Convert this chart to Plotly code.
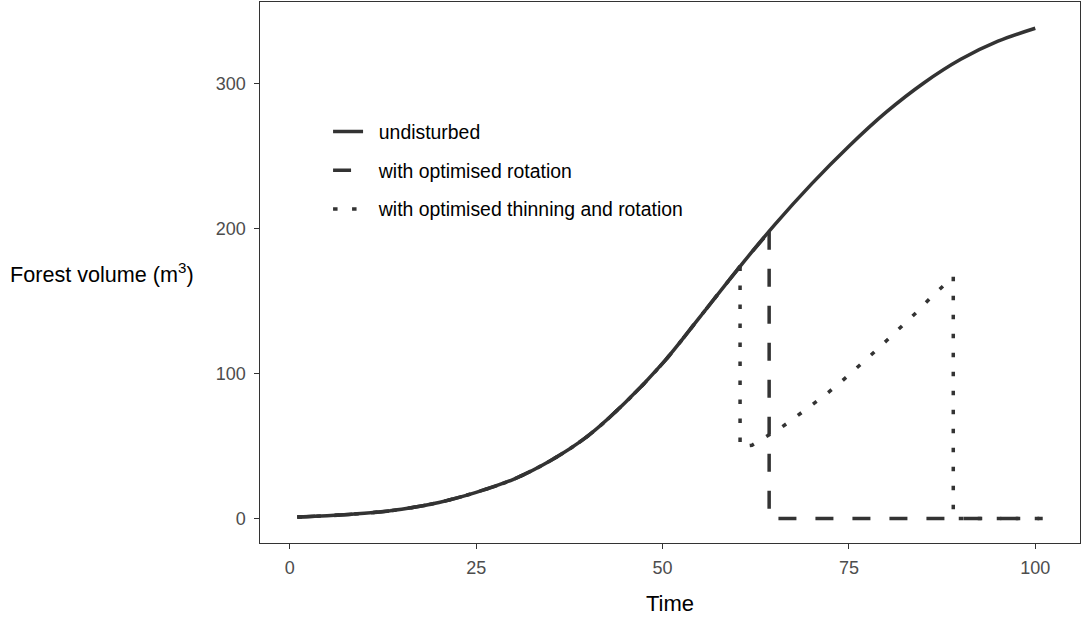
import plotly.graph_objects as go

# ---- data ----
curve_time = [1, 5, 10, 15, 20, 25, 30, 35, 40, 45, 50, 55, 60, 65, 70, 75, 80, 85, 90, 95, 100]
curve_vol = [0.9, 1.8, 3.5, 6.3, 11, 18, 27, 40, 57, 80, 107, 139, 171.5, 202.5, 231, 257, 280.5, 300.5, 317, 329.5, 338.5]

rotation_grow_time = [1, 5, 10, 15, 20, 25, 30, 35, 40, 45, 50, 55, 60, 64.3]
rotation_grow_vol = [0.9, 1.8, 3.5, 6.3, 11, 18, 27, 40, 57, 80, 107, 139, 171.5, 198]
rotation_cut_time = [64.3, 64.3, 101]
rotation_cut_vol = [198, 0, 0]

thinning_grow_time = [1, 5, 10, 15, 20, 25, 30, 35, 40, 45, 50, 55, 60, 60.4]
thinning_grow_vol = [0.9, 1.8, 3.5, 6.3, 11, 18, 27, 40, 57, 80, 107, 139, 171.5, 174]
thinning_cut_time = [60.4, 60.4, 62, 64, 66, 68, 70, 72, 74, 76, 78, 80, 82, 84, 86, 88, 89, 89, 101]
thinning_cut_vol = [174, 49.5, 50.5, 56.5, 63, 70.5, 78, 86, 94.5, 103.5, 113, 122.5, 132, 142, 152.5, 162, 167, 0, 0]

series_names = ["undisturbed", "with optimised rotation", "with optimised thinning and rotation"]
x_ticks = [0, 25, 50, 75, 100]
y_ticks = [0, 100, 200, 300]

COL = "#333333"
LW = 3.5
DASH = "18px,19px"
DOT = "4.5px,14.5px"
FONT = "Liberation Sans, Arial, sans-serif"
PAD = "\u00a0\u00a0"  # small gap between legend key and label, as in the reference

fig = go.Figure()
fig.add_trace(go.Scatter(x=curve_time, y=curve_vol, mode="lines", name=PAD + series_names[0],
                         legendgroup="a", line=dict(color=COL, width=LW, shape="spline", smoothing=1.0)))
fig.add_trace(go.Scatter(x=rotation_grow_time, y=rotation_grow_vol, mode="lines", name=PAD + series_names[1],
                         legendgroup="b", line=dict(color=COL, width=LW, dash=DASH, shape="spline", smoothing=1.0)))
fig.add_trace(go.Scatter(x=rotation_cut_time, y=rotation_cut_vol, mode="lines", name=PAD + series_names[1],
                         legendgroup="b", showlegend=False, line=dict(color=COL, width=LW, dash=DASH)))
fig.add_trace(go.Scatter(x=thinning_grow_time, y=thinning_grow_vol, mode="lines", name=PAD + series_names[2],
                         legendgroup="c", line=dict(color=COL, width=LW, dash=DOT, shape="spline", smoothing=1.0)))
fig.add_trace(go.Scatter(x=thinning_cut_time, y=thinning_cut_vol, mode="lines", name=PAD + series_names[2],
                         legendgroup="c", showlegend=False, line=dict(color=COL, width=LW, dash=DOT)))

axis_common = dict(showgrid=False, zeroline=False, showline=True, mirror=True,
                   linecolor=COL, linewidth=1.1, ticks="outside", ticklen=4.5,
                   tickwidth=1.1, tickcolor=COL,
                   tickfont=dict(family=FONT, size=18, color="#4D4D4D"))

fig.update_layout(
    width=1088, height=619,
    margin=dict(l=260, r=8, t=2, b=76),
    paper_bgcolor="white", plot_bgcolor="white",
    font=dict(family=FONT, color="black"),
    xaxis=dict(range=[-4, 106], tickvals=x_ticks, ticklabelstandoff=4, **axis_common),
    yaxis=dict(range=[-17, 356.6], tickvals=y_ticks, ticklabelstandoff=5, **axis_common),
    showlegend=True,
    legend=dict(x=0.083, y=0.796, xanchor="left", yanchor="top", bgcolor="rgba(0,0,0,0)",
                font=dict(family=FONT, size=19.4, color="black"),
                tracegroupgap=10.5, traceorder="grouped"),
    annotations=[
        dict(text="Forest volume (m<sup>3</sup>)", xref="paper", yref="paper",
             x=-0.307, y=0.5, xanchor="left", yanchor="middle", showarrow=False,
             font=dict(family=FONT, size=21.6, color="black")),
        dict(text="Time", xref="paper", yref="paper", x=0.5, y=-0.112,
             xanchor="center", yanchor="middle", showarrow=False,
             font=dict(family=FONT, size=22, color="black")),
    ],
)

fig.write_html("out.html")
